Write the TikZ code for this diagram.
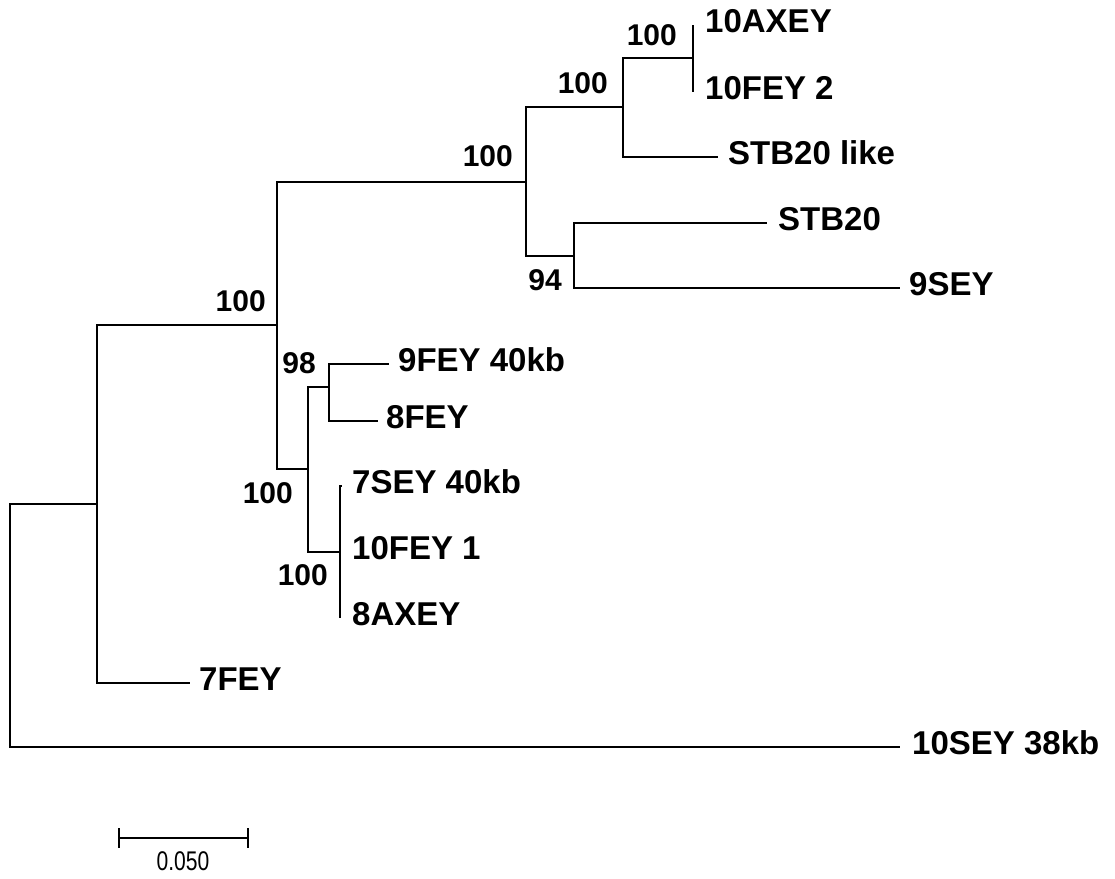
\documentclass[tikz,border=0pt]{standalone}
\usepackage{fontspec}
\setmainfont{Liberation Sans}
\usetikzlibrary{calc}
\tikzset{
  branch/.style={line width=1.6pt, black},
  leaf/.style={anchor=west, inner sep=0pt, yshift=4pt, font=\bfseries\fontsize{33}{38}\selectfont},
  boot/.style={anchor=east, inner sep=0pt, font=\bfseries\fontsize{30}{34}\selectfont},
  scaletext/.style={inner sep=0pt, font=\fontsize{27}{30}\selectfont},
}
\begin{document}
\begin{tikzpicture}[x=1pt,y=-1pt]
\useasboundingbox (0,0) rectangle (1115,878);
% internal nodes
\coordinate (R) at (10,625.5);
\coordinate (A) at (97,504);
\coordinate (B) at (277,325);
\coordinate (F) at (526,182);
\coordinate (G) at (623,107);
\coordinate (H) at (693,58);
\coordinate (I) at (574,256);
\coordinate (C) at (308,469);
\coordinate (D) at (329,387);
\coordinate (E) at (340,552);
% leaf tips
\coordinate (t1) at (693,25);
\coordinate (t2) at (693,92);
\coordinate (t3) at (718,157);
\coordinate (t4) at (767,223);
\coordinate (t5) at (900,288);
\coordinate (t6) at (389,364);
\coordinate (t7) at (378,421);
\coordinate (t8) at (342,486);
\coordinate (t9) at (340,552);
\coordinate (t10) at (340,618);
\coordinate (t11) at (190,683);
\coordinate (t12) at (900,747);
% labels
\node[leaf] (n1) at ($(t1)+(12,0)$) {10AXEY};
\node[leaf] (n2) at ($(t2)+(12,0)$) {10FEY 2};
\node[leaf] (n3) at ($(t3)+(10,0)$) {STB20 like};
\node[leaf] (n4) at ($(t4)+(11,0)$) {STB20};
\node[leaf] (n5) at ($(t5)+(9,0)$) {9SEY};
\node[leaf] (n6) at ($(t6)+(9,0)$) {9FEY 40kb};
\node[leaf] (n7) at ($(t7)+(8,0)$) {8FEY};
\node[leaf] (n8) at ($(t8)+(10,0)$) {7SEY 40kb};
\node[leaf] (n9) at ($(t9)+(12,0)$) {10FEY 1};
\node[leaf] (n10) at ($(t10)+(12,0)$) {8AXEY};
\node[leaf] (n11) at ($(t11)+(9,0)$) {7FEY};
\node[leaf] (n12) at ($(t12)+(12,0)$) {10SEY 38kb};
% branches
\draw[branch] (R) |- (A);
\draw[branch] (R) |- (t12);
\draw[branch] (A) |- (B);
\draw[branch] (A) |- (t11);
\draw[branch] (B) |- (F);
\draw[branch] (B) |- (C);
\draw[branch] (F) |- (G);
\draw[branch] (F) |- (I);
\draw[branch] (G) |- (H);
\draw[branch] (G) |- (t3);
\draw[branch] (H) -- (t1);
\draw[branch] (H) -- (t2);
\draw[branch] (I) |- (t4);
\draw[branch] (I) |- (t5);
\draw[branch] (C) |- (D);
\draw[branch] (C) |- (E);
\draw[branch] (D) |- (t6);
\draw[branch] (D) |- (t7);
\draw[branch] (E) |- (t8);
\draw[branch] (E) -- (t9);
\draw[branch] (E) -- (t10);
% bootstrap values
\node[boot] (b1) at (677,35) {100};
\node[boot] (b2) at (608,83) {100};
\node[boot] (b3) at (513,156) {100};
\node[boot] (b4) at (562,280) {94};
\node[boot] (b5) at (266,301) {100};
\node[boot] (b6) at (316,363) {98};
\node[boot] (b7) at (293,493) {100};
\node[boot] (b8) at (328,575) {100};
% scale bar
\coordinate (s1) at (119,838);
\coordinate (s2) at (248,838);
\draw[branch] (s1) -- (s2);
\draw[branch] ($(s1)+(0,-10)$) -- ($(s1)+(0,10)$);
\draw[branch] ($(s2)+(0,-10)$) -- ($(s2)+(0,10)$);
\node[scaletext] (st) at (183,861) {\scalebox{0.78}[1]{0.050}};
\end{tikzpicture}
\end{document}
